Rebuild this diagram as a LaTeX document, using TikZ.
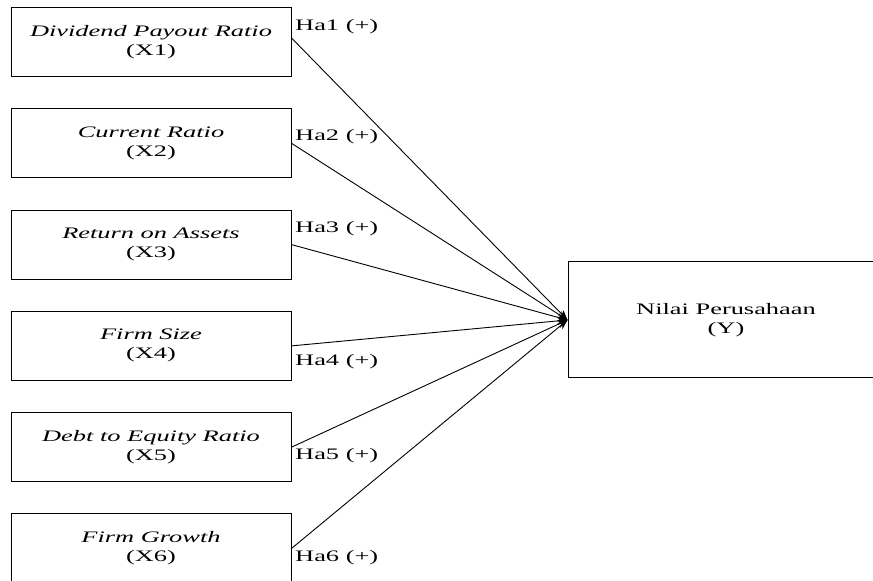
\documentclass[tikz,border=0pt]{standalone}
\usepackage{fontspec}
\setmainfont[FakeStretch=1.65]{Liberation Serif}
\usetikzlibrary{arrows.meta}
\begin{document}
\begin{tikzpicture}[x=1pt,y=1pt,
  var/.style={draw,line width=1pt,minimum width=280pt,minimum height=69pt,
    align=center,inner sep=0pt,font=\fontsize{16}{19}\selectfont},
  hyp/.style={anchor=west,inner sep=0pt,font=\fontsize{16}{18}\selectfont},
  link/.style={-{Stealth[length=10pt,width=8pt]},line width=0.9pt}]
\useasboundingbox (0,0) rectangle (873,581);
\node[var] (x1) at (151,539) {\textit{Dividend Payout Ratio}\\(X1)};
\node[var] (x2) at (151,437.7) {\textit{Current Ratio}\\(X2)};
\node[var] (x3) at (151,336.4) {\textit{Return on Assets}\\(X3)};
\node[var] (x4) at (151,235.1) {\textit{Firm Size}\\(X4)};
\node[var] (x5) at (151,133.8) {\textit{Debt to Equity Ratio}\\(X5)};
\node[var] (x6) at (151,32.5) {\textit{Firm Growth}\\(X6)};
\node[var,minimum width=316pt,minimum height=116pt] (y) at (726,261) {Nilai Perusahaan\\(Y)};
\draw[link] ([yshift=4pt]x1.east) -- (y.west);
\draw[link] (x2.east) -- (y.west);
\draw[link] (x3.east) -- (y.west);
\draw[link] (x4.east) -- (y.west);
\draw[link] (x5.east) -- (y.west);
\draw[link] (x6.east) -- (y.west);
\node[hyp] (h1) at (295,554) {Ha1 (+)};
\node[hyp] (h2) at (295,444) {Ha2 (+)};
\node[hyp] (h3) at (295,352) {Ha3 (+)};
\node[hyp] (h4) at (295,219) {Ha4 (+)};
\node[hyp] (h5) at (295,125) {Ha5 (+)};
\node[hyp] (h6) at (295,23) {Ha6 (+)};
\end{tikzpicture}
\end{document}
